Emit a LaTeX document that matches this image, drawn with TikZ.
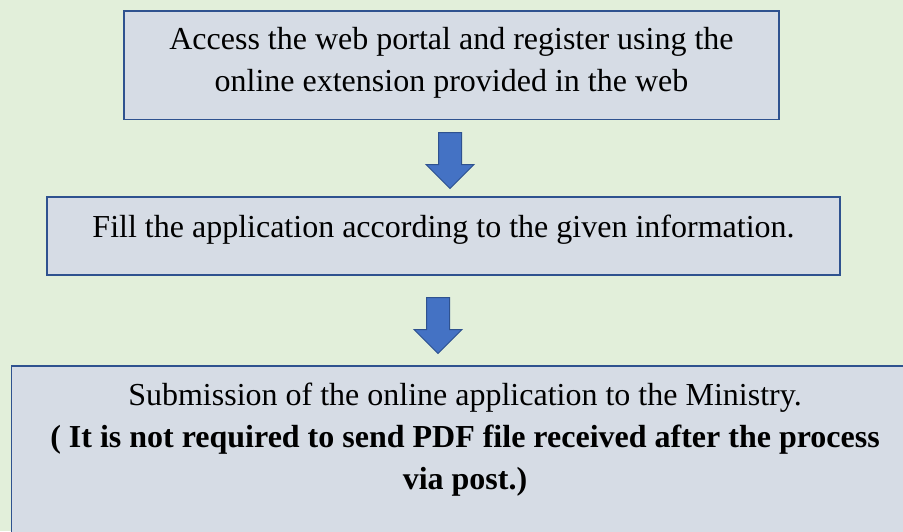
\documentclass[tikz,border=0pt]{standalone}
\usepackage{fontspec}
\setmainfont{Liberation Serif}
\usetikzlibrary{shapes.arrows}
\definecolor{bggreen}{HTML}{E2EFDA}
\definecolor{boxgray}{HTML}{D6DCE5}
\definecolor{lineblue}{HTML}{2F528F}
\definecolor{arrowblue}{HTML}{4472C4}
\tikzset{
  stepbox/.style={draw=lineblue, fill=boxgray, line width=1.8pt, anchor=north, align=center,
    inner sep=0pt, font=\fontsize{32}{42}\selectfont},
  downarrow/.style={single arrow, draw=lineblue, fill=arrowblue, line width=1pt,
    shape border rotate=270, single arrow head extend=12.5pt, single arrow head indent=0pt,
    inner sep=11pt, minimum height=56pt, anchor=tail}
}
\begin{document}
\begin{tikzpicture}[x=1pt,y=-1pt]
  \useasboundingbox (0,0) rectangle (903,531);
  \clip (0,0) rectangle (903,531);
  \fill[bggreen] (0,0) rectangle (903,531);
  % steps
  \node[stepbox, minimum width=655pt, text height=81pt, text depth=27.5pt] (s1) at (451.5,10) {Access the web portal and register using the\\online extension provided in the web};
  \node[stepbox, minimum width=793pt, text height=41pt, text depth=37pt] (s2) at (443.5,196) {Fill the application according to the given information.};
  \node[stepbox, minimum width=907pt, text height=124pt, text depth=60pt] (s3) at (465,365) {Submission of the online application to the Ministry.\\\textbf{( It is not required to send PDF file received after the process}\\\textbf{via post.)}};
  % arrows between steps
  \node[downarrow] (a1) at (450,132) {};
  \node[downarrow] (a2) at (438,297) {};
\end{tikzpicture}
\end{document}
